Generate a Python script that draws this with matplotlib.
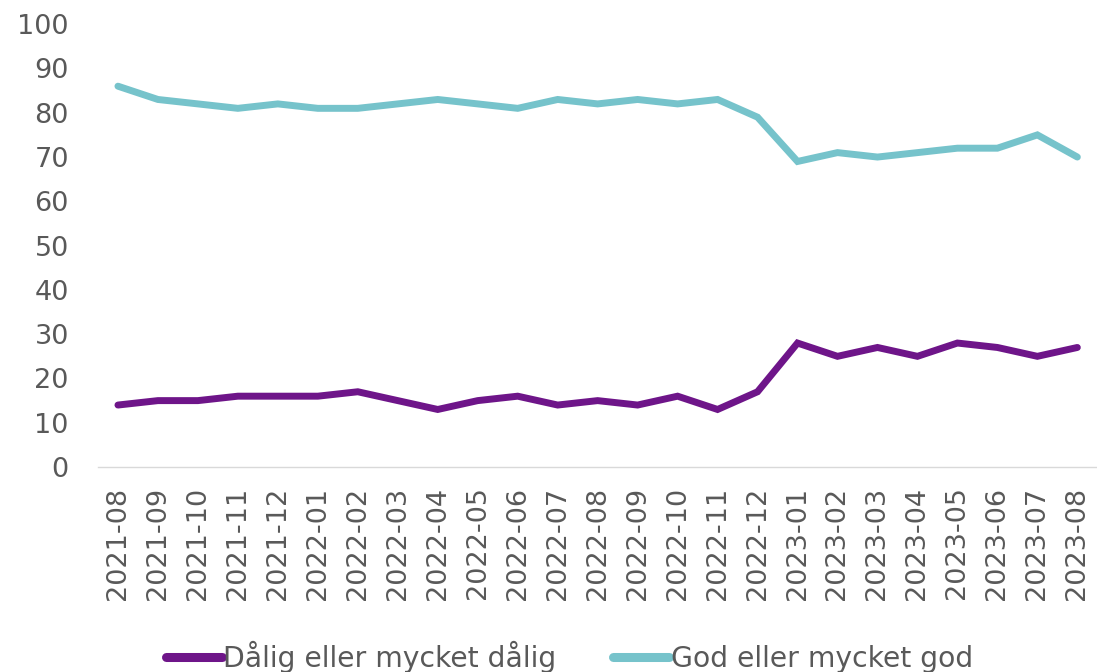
import matplotlib.pyplot as plt
import numpy as np

plt.rcParams['font.family'] = ['DejaVu Sans']

months = ['2021-08', '2021-09', '2021-10', '2021-11', '2021-12',
          '2022-01', '2022-02', '2022-03', '2022-04', '2022-05', '2022-06',
          '2022-07', '2022-08', '2022-09', '2022-10', '2022-11', '2022-12',
          '2023-01', '2023-02', '2023-03', '2023-04', '2023-05', '2023-06',
          '2023-07', '2023-08']
dalig = [14, 15, 15, 16, 16, 16, 17, 15, 13, 15, 16, 14, 15, 14, 16, 13, 17,
         28, 25, 27, 25, 28, 27, 25, 27]
god = [86, 83, 82, 81, 82, 81, 81, 82, 83, 82, 81, 83, 82, 83, 82, 83, 79,
       69, 71, 70, 71, 72, 72, 75, 70]

purple = '#6E1589'
teal = '#76C3CB'
grey = '#595959'

fig = plt.figure(figsize=(10.97, 6.72), dpi=100)
ax = fig.add_axes([0.0893, 0.305, 0.911, 0.659])

x = np.arange(len(months))
ax.plot(x, dalig, color=purple, lw=5, solid_capstyle='round', solid_joinstyle='miter',
        label='Dålig eller mycket dålig')
ax.plot(x, god, color=teal, lw=5, solid_capstyle='round', solid_joinstyle='miter',
        label='God eller mycket god')

ax.set_xlim(-0.5, len(months) - 0.5)
ax.set_ylim(0, 100)
ax.set_yticks(range(0, 101, 10))
ax.set_xticks(x)
ax.set_xticklabels(months, rotation=90)
ax.tick_params(axis='both', length=0, labelsize=19.5, colors=grey)
ax.tick_params(axis='x', pad=14)
ax.tick_params(axis='y', pad=21)

for s in ['top', 'right', 'left']:
    ax.spines[s].set_visible(False)
ax.spines['bottom'].set_color('#D9D9D9')
ax.spines['bottom'].set_linewidth(1)

leg = fig.legend(loc='center', bbox_to_anchor=(0.519, 0.022), ncol=2, frameon=False,
                 fontsize=20.3, handlelength=2.0, handletextpad=0.05, columnspacing=2.0)
for line in leg.get_lines():
    line.set_linewidth(6.5)
    line.set_solid_capstyle('round')
for t in leg.get_texts():
    t.set_color(grey)

fig.savefig('out.png', dpi=100)
